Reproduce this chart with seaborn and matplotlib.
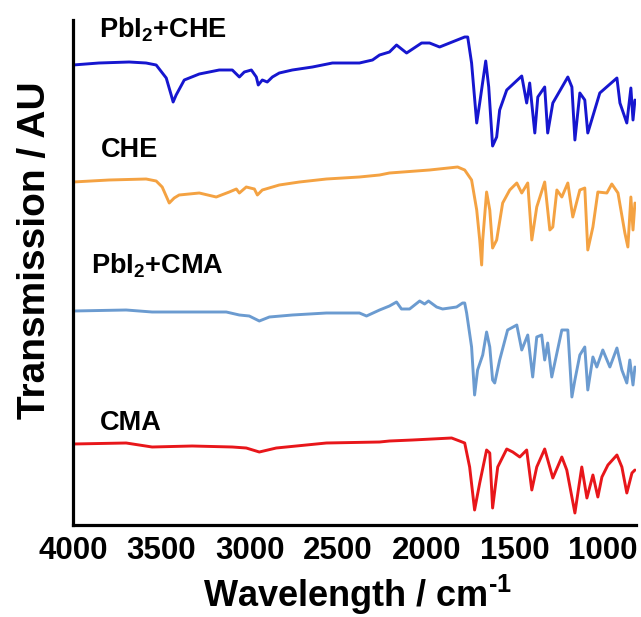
import numpy as np
import pandas as pd
import matplotlib
matplotlib.use("Agg")
import matplotlib.pyplot as plt
from matplotlib.ticker import MultipleLocator
import seaborn as sns

# ---------------- data ----------------
wn_pbi2_che = [4000, 3853, 3682, 3586, 3529, 3472, 3444, 3433, 3416, 3370, 3285, 3172, 3098, 3058,
               3030, 2990, 2962, 2951, 2928, 2900, 2871, 2832, 2758, 2644, 2531, 2378, 2304, 2264,
               2208, 2168, 2111, 2026, 1981, 1924, 1782, 1765, 1743, 1714, 1697, 1663, 1646, 1624,
               1601, 1584, 1544, 1459, 1431, 1414, 1385, 1368, 1329, 1312, 1283, 1198, 1175, 1158,
               1130, 1102, 1085, 1017, 920, 903, 864, 841, 829, 818]
t_pbi2_che = [460, 462, 463, 462, 460, 447, 430, 423, 430, 445, 451, 455, 455, 448,
              453, 455, 448, 440, 445, 443, 448, 452, 455, 458, 462, 462, 465, 470,
              473, 480, 472, 482, 482, 478, 488, 488, 462, 402, 422, 464, 438, 379,
              388, 415, 435, 449, 422, 442, 392, 428, 438, 392, 422, 448, 438, 385,
              432, 425, 392, 432, 447, 422, 402, 437, 405, 425]

wn_che = [4000, 3796, 3586, 3529, 3495, 3455, 3427, 3399, 3285, 3189, 3115, 3075, 3058, 3019,
          2973, 2956, 2928, 2832, 2718, 2565, 2378, 2264, 2208, 1981, 1822, 1782, 1743, 1714,
          1697, 1686, 1680, 1658, 1640, 1624, 1601, 1567, 1527, 1487, 1459, 1425, 1402, 1374,
          1329, 1300, 1283, 1260, 1232, 1198, 1170, 1130, 1102, 1085, 1056, 1028, 977, 949,
          914, 875, 858, 841, 829, 818]
t_che = [343, 345, 346, 344, 338, 322, 327, 330, 332, 328, 333, 336, 332, 338,
         336, 330, 335, 340, 343, 346, 348, 350, 352, 355, 358, 355, 345, 315,
         285, 260, 285, 333, 315, 277, 285, 322, 335, 342, 332, 342, 285, 318,
         343, 295, 298, 335, 328, 342, 308, 335, 337, 275, 298, 333, 332, 341,
         332, 292, 278, 328, 295, 322]

wn_pbi2_cma = [4000, 3699, 3552, 3325, 3132, 3058, 3002, 2945, 2888, 2758, 2565, 2378, 2338, 2264,
               2208, 2168, 2140, 2094, 2037, 2009, 1987, 1941, 1907, 1828, 1794, 1782, 1771, 1743,
               1726, 1709, 1680, 1658, 1640, 1624, 1612, 1584, 1539, 1487, 1459, 1425, 1397, 1374,
               1346, 1329, 1312, 1289, 1272, 1232, 1198, 1175, 1158, 1130, 1102, 1085, 1056, 1034,
               1000, 960, 920, 892, 864, 847, 829, 818]
t_pbi2_cma = [214, 215, 213, 213, 213, 210, 209, 204, 208, 210, 212, 212, 209, 215,
              219, 223, 216, 216, 224, 221, 224, 218, 216, 218, 222, 222, 212, 178,
              130, 155, 170, 193, 178, 145, 142, 165, 195, 200, 175, 190, 148, 188,
              190, 165, 182, 148, 162, 195, 195, 128, 145, 170, 178, 135, 168, 158,
              175, 158, 177, 155, 142, 165, 140, 158]

wn_cma = [4000, 3699, 3552, 3325, 3098, 3019, 2945, 2849, 2565, 2264, 2208, 2077, 1856, 1811,
          1782, 1754, 1726, 1697, 1658, 1640, 1624, 1595, 1544, 1510, 1470, 1431, 1402, 1374,
          1329, 1283, 1232, 1204, 1158, 1119, 1090, 1056, 1028, 1005, 971, 920, 892, 864,
          835, 818]
t_cma = [81, 82, 78, 79, 78, 77, 73, 77, 82, 83, 84, 85, 87, 84,
         82, 58, 15, 42, 75, 72, 17, 58, 76, 73, 68, 75, 35, 58,
         76, 47, 68, 55, 12, 58, 27, 50, 28, 48, 60, 70, 58, 32,
         52, 55]

series_names = ["PbI2+CHE", "CHE", "PbI2+CMA", "CMA"]
series_labels = ["PbI$_2$+CHE", "CHE", "PbI$_2$+CMA", "CMA"]
xticks = [4000, 3500, 3000, 2500, 2000, 1500, 1000]

# ---------------- build table ----------------
frames = []
for name, wn, t in zip(series_names,
                       [wn_pbi2_che, wn_che, wn_pbi2_cma, wn_cma],
                       [t_pbi2_che, t_che, t_pbi2_cma, t_cma]):
    frames.append(pd.DataFrame({"wn": wn, "T": t, "sample": name}))
df = pd.concat(frames, ignore_index=True)

# ---------------- style ----------------
sns.set_style("white")
plt.rcParams["font.family"] = ["Liberation Sans", "DejaVu Sans"]
plt.rcParams["font.weight"] = "bold"
plt.rcParams["text.color"] = "black"
plt.rcParams["axes.labelcolor"] = "black"
plt.rcParams["xtick.color"] = "black"
plt.rcParams["xtick.labelcolor"] = "black"
plt.rcParams["mathtext.fontset"] = "custom"
plt.rcParams["mathtext.rm"] = "Liberation Sans:bold"
plt.rcParams["mathtext.bf"] = "Liberation Sans:bold"
plt.rcParams["mathtext.it"] = "Liberation Sans:bold"
plt.rcParams["mathtext.default"] = "bf"

palette = {"PbI2+CHE": "#1616CF", "CHE": "#F4A242",
           "PbI2+CMA": "#6B9BD0", "CMA": "#E8161A"}

fig = plt.figure(figsize=(6.41, 6.17), dpi=100)
ax = fig.add_axes([73 / 641, (617 - 525) / 617, 563 / 641, 505 / 617])

sns.lineplot(data=df, x="wn", y="T", hue="sample", palette=palette,
             estimator=None, linewidth=2.1, legend=False, ax=ax)

ax.set_xlim(4000, 812)
ax.set_ylim(0, 505)
ax.set_xticks(xticks)
ax.set_xticklabels([str(v) for v in xticks])
ax.xaxis.set_minor_locator(MultipleLocator(100))
ax.set_yticks([])

for s in ["top", "right"]:
    ax.spines[s].set_visible(False)
for s in ["left", "bottom"]:
    ax.spines[s].set_linewidth(2.3)
    ax.spines[s].set_color("black")

ax.tick_params(axis="x", which="major", direction="in", length=6, width=1.6,
               labelsize=22.5, pad=8, color="black", labelcolor="black")
ax.tick_params(axis="x", which="minor", direction="in", length=3, width=1.6,
               color="black")
for lab in ax.get_xticklabels():
    lab.set_fontweight("bold")

ax.set_xlabel(r"Wavelength / cm$^{\text{-1}}$", fontsize=26, fontweight="bold",
              color="black")
ax.xaxis.set_label_coords(0.505, -0.094)
ax.set_ylabel("Transmission / AU", fontsize=28, fontweight="bold", color="black")
ax.yaxis.set_label_coords(-0.035, 0.545)

# curve labels
label_pos = [(3853, 488), (3841, 368), (3898, 252), (3847, 95)]
for lab, (x, y) in zip(series_labels, label_pos):
    ax.text(x, y, lab, fontsize=19.5, fontweight="bold", ha="left", va="baseline",
            color="black")

fig.savefig("out.png", dpi=100)
